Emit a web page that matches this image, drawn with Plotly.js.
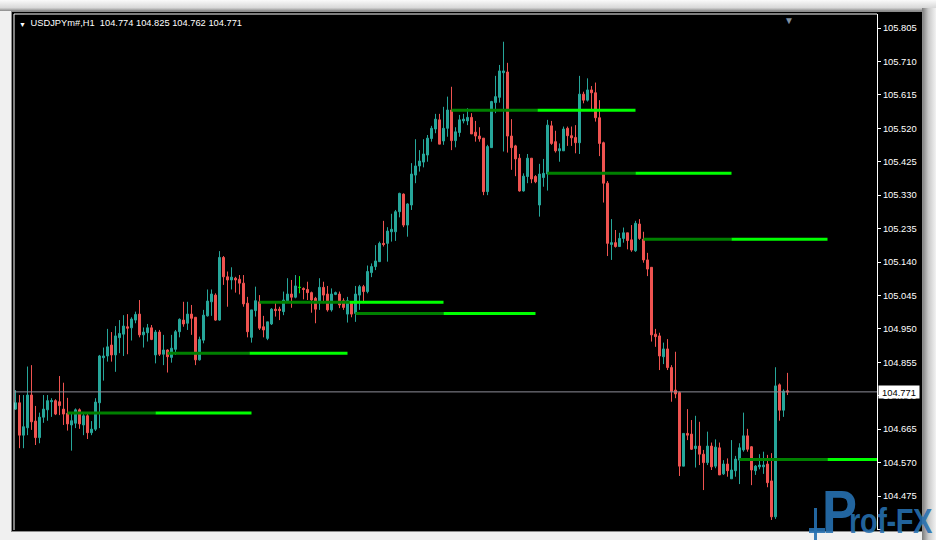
<!DOCTYPE html>
<html>
<head>
<meta charset="utf-8">
<script src="https://cdn.plot.ly/plotly-3.0.1.min.js"></script>
<style>
  html, body { margin: 0; padding: 0; width: 936px; height: 540px; overflow: hidden; background: #f0f0f0; }
  #topbar { position: absolute; left: 0; top: 0; width: 936px; height: 11px;
            background: linear-gradient(#fafafa, #d8d8d8 70%, #8a8a8a); }
  #shadow { position: absolute; left: 922px; top: 8px; width: 14px; height: 532px;
            background: linear-gradient(90deg, #7a7a7a, #c8c8c8 45%, #f2f2f2); }
  #edge { position: absolute; left: 11px; top: 11px; width: 912px; height: 521px; background: #8c8c8c; }
  #panel { position: absolute; left: 12px; top: 12px; width: 910px; height: 519px; background: #000; overflow: hidden; }
  #chart { width: 910px; height: 519px; }
  #logo { position: absolute; left: 0; top: 0; width: 936px; height: 540px; pointer-events: none; overflow: hidden;
          font-family: "Liberation Sans", Arial, sans-serif; font-weight: bold; color: rgba(38,112,176,0.9);
          white-space: nowrap; }
  #logo .p { position: absolute; left: 822px; top: 482px; font-size: 61px; line-height: 61px; white-space: nowrap;
             transform: scaleX(0.86); transform-origin: left top; }
  #logo .rest { position: absolute; left: 849px; top: 503px; font-size: 35px; line-height: 35px; white-space: nowrap;
                letter-spacing: -0.5px; transform: scaleX(0.83); transform-origin: left top; }
  #logo .stick { position: absolute; left: 814px; top: 508px; width: 3px; height: 32px; background: rgba(38,112,176,0.9); }
  #logo .foot { position: absolute; left: 809px; top: 528px; width: 16px; height: 5px; background: rgba(38,112,176,0.9); }
</style>
</head>
<body>
<div id="topbar"></div>
<div id="shadow"></div>
<div id="edge"></div>
<div id="panel"><div id="chart"></div></div>
<div id="logo"><div class="stick"></div><div class="foot"></div><span class="p">P</span><span class="rest">rof-FX</span></div>
<script>
// USDJPYm# hourly candles, oldest first
const symbol = "USDJPYm#,H1";

const open = [
  104.722,104.740,104.648,104.669,104.762,104.688,104.641,104.699,104.720,104.743,
  104.746,104.743,104.722,104.710,104.677,104.682,104.720,104.677,104.703,104.655,
  104.665,104.740,104.868,104.873,104.904,104.876,104.925,104.935,104.956,104.953,
  104.975,104.992,104.933,104.939,104.953,104.876,104.941,104.878,104.890,104.869,
  104.892,104.942,104.975,104.966,104.992,104.983,104.862,104.918,104.987,105.027,
  105.046,104.975,105.153,105.098,105.089,105.094,105.091,105.080,105.023,104.926,
  105.002,105.027,104.956,104.923,104.964,105.006,105.006,104.999,105.030,105.049,
  105.040,105.068,105.065,105.062,105.053,105.037,105.024,105.068,105.049,105.004,
  105.048,105.049,105.030,104.992,105.023,104.994,105.046,105.070,105.056,105.110,
  105.127,105.141,105.193,105.193,105.226,105.226,105.283,105.333,105.245,105.302,
  105.387,105.413,105.424,105.444,105.491,105.518,105.544,105.484,105.520,105.572,
  105.485,105.508,105.541,105.541,105.551,105.509,105.498,105.492,105.340,105.465,
  105.593,105.608,105.678,105.680,105.498,105.470,105.435,105.342,105.383,105.435,
  105.383,105.302,105.380,105.390,105.527,105.482,105.456,105.456,105.520,105.499,
  105.494,105.479,105.617,105.600,105.629,105.621,105.550,105.479,105.364,105.190,
  105.195,105.184,105.207,105.223,105.203,105.172,105.248,105.205,105.146,105.125,
  104.935,104.930,104.871,104.893,104.840,104.776,104.769,104.560,104.653,104.651,
  104.610,104.617,104.594,104.570,104.617,104.560,104.612,104.538,104.566,104.524,
  104.547,104.577,104.606,104.646,104.615,104.547,104.558,104.558,104.566,104.518,
  104.416,104.791,104.719,104.774
];
const high = [
  104.776,104.762,104.762,104.843,104.847,104.731,104.712,104.762,104.762,104.753,
  104.750,104.816,104.797,104.754,104.710,104.724,104.724,104.710,104.710,104.688,
  104.753,104.876,104.897,104.950,104.941,104.958,104.975,104.989,104.992,104.983,
  104.999,105.032,104.954,104.964,104.961,104.947,104.947,104.933,104.892,104.933,
  104.947,104.980,105.027,105.027,105.018,104.983,104.928,105.004,105.062,105.062,
  105.051,105.171,105.157,105.113,105.125,105.098,105.103,105.103,105.041,105.004,
  105.070,105.046,104.987,104.970,105.009,105.029,105.013,105.056,105.094,105.089,
  105.103,105.100,105.068,105.084,105.056,105.041,105.094,105.084,105.072,105.065,
  105.056,105.056,105.037,105.041,105.027,105.072,105.075,105.075,105.130,105.136,
  105.188,105.198,105.257,105.239,105.277,105.288,105.337,105.335,105.307,105.421,
  105.489,105.458,105.489,105.501,105.527,105.561,105.561,105.581,105.610,105.638,
  105.523,105.558,105.561,105.577,105.563,105.541,105.523,105.492,105.473,105.598,
  105.669,105.700,105.766,105.706,105.546,105.473,105.447,105.392,105.447,105.435,
  105.387,105.419,105.433,105.544,105.541,105.513,105.477,105.525,105.525,105.525,
  105.529,105.669,105.624,105.662,105.640,105.650,105.600,105.482,105.370,105.262,
  105.231,105.223,105.238,105.223,105.245,105.257,105.262,105.226,105.166,105.125,
  104.950,104.939,104.911,104.921,104.847,104.885,104.772,104.653,104.722,104.691,
  104.703,104.686,104.606,104.658,104.627,104.636,104.627,104.577,104.582,104.634,
  104.589,104.625,104.712,104.666,104.617,104.563,104.594,104.601,104.592,104.597,
  104.841,104.795,104.778,104.825
];
const low = [
  104.720,104.611,104.611,104.648,104.663,104.620,104.625,104.683,104.689,104.700,
  104.705,104.705,104.677,104.661,104.604,104.668,104.666,104.648,104.637,104.648,
  104.660,104.668,104.803,104.857,104.857,104.828,104.881,104.873,104.878,104.917,
  104.966,104.926,104.897,104.914,104.918,104.852,104.873,104.847,104.826,104.854,
  104.876,104.926,104.956,104.947,104.933,104.847,104.860,104.909,104.985,104.987,
  104.973,104.973,105.075,105.013,105.062,105.053,105.048,105.013,104.926,104.911,
  104.985,104.947,104.926,104.918,104.961,104.985,104.975,104.989,105.027,105.010,
  105.037,105.051,105.034,105.032,104.996,104.966,105.004,105.023,104.999,104.999,
  105.046,105.009,105.004,104.968,104.983,104.970,105.004,105.023,105.051,105.097,
  105.117,105.141,105.184,105.141,105.198,105.200,105.267,105.239,105.212,105.288,
  105.364,105.397,105.409,105.425,105.482,105.506,105.475,105.473,105.496,105.458,
  105.466,105.496,105.534,105.529,105.504,105.482,105.482,105.330,105.330,105.465,
  105.563,105.593,105.454,105.451,105.402,105.384,105.340,105.340,105.364,105.364,
  105.364,105.269,105.354,105.343,105.473,105.451,105.425,105.456,105.470,105.470,
  105.449,105.447,105.591,105.596,105.574,105.539,105.441,105.309,105.157,105.146,
  105.181,105.184,105.195,105.176,105.169,105.169,105.203,105.138,105.100,104.914,
  104.899,104.833,104.850,104.833,104.743,104.753,104.532,104.560,104.634,104.606,
  104.556,104.563,104.492,104.563,104.549,104.554,104.535,104.535,104.530,104.524,
  104.530,104.509,104.601,104.601,104.506,104.535,104.551,104.538,104.500,104.407,
  104.410,104.689,104.700,104.762
];
const close = [
  104.740,104.648,104.672,104.762,104.686,104.641,104.699,104.722,104.746,104.746,
  104.708,104.732,104.708,104.680,104.689,104.720,104.680,104.703,104.655,104.665,
  104.742,104.873,104.873,104.899,104.876,104.930,104.937,104.958,104.952,104.978,
  104.991,104.933,104.941,104.953,104.920,104.941,104.878,104.890,104.871,104.895,
  104.942,104.977,104.964,104.992,104.980,104.862,104.920,104.989,105.029,105.049,
  104.975,105.153,105.098,105.089,105.097,105.089,105.080,105.021,104.942,105.004,
  105.030,104.952,104.947,104.970,105.006,105.002,105.002,105.032,105.049,105.040,
  105.072,105.068,105.062,105.053,105.032,105.006,105.068,105.046,105.004,105.049,
  105.053,105.018,105.011,105.030,104.992,105.049,105.070,105.056,105.113,105.127,
  105.143,105.193,105.190,105.228,105.233,105.283,105.335,105.245,105.305,105.390,
  105.413,105.427,105.447,105.492,105.520,105.546,105.475,105.520,105.572,105.485,
  105.510,105.544,105.546,105.551,105.504,105.498,105.490,105.340,105.468,105.596,
  105.610,105.683,105.683,105.498,105.465,105.433,105.342,105.384,105.435,105.376,
  105.368,105.390,105.392,105.529,105.477,105.456,105.462,105.518,105.499,105.493,
  105.479,105.617,105.600,105.629,105.621,105.550,105.477,105.364,105.193,105.195,
  105.184,105.207,105.223,105.201,105.174,105.250,105.207,105.146,105.120,104.933,
  104.928,104.873,104.893,104.840,104.772,104.765,104.560,104.653,104.648,104.608,
  104.617,104.594,104.570,104.617,104.558,104.614,104.535,104.566,104.547,104.549,
  104.580,104.612,104.646,104.608,104.549,104.560,104.563,104.563,104.513,104.416,
  104.788,104.719,104.773,104.771
];

// Horizontal levels: price, first bar, bar where the line turns bright, last bar
const levelPrice = [104.711, 104.881, 105.026, 104.994, 105.571, 105.392, 105.205, 104.579];
const levelStart = [13, 38, 61, 85, 109, 133, 157, 181];
const levelMid   = [35, 58.5, 83.5, 107, 130.5, 155, 179, 203];
const levelEnd   = [59, 83, 107, 130, 155, 179, 203, 226];

// Price scale labels
const tickVals = [105.805, 105.710, 105.615, 105.520, 105.425, 105.330, 105.235, 105.140,
                  105.045, 104.950, 104.855, 104.760, 104.665, 104.570, 104.475, 104.380];

const BULL = "#26a69a", BEAR = "#ef5350", DOJI = "#00ff00";
const FONT = "Liberation Sans, Arial, sans-serif";

const idx = open.map((_, i) => i);
const bodyIdx = idx.filter(i => open[i] !== close[i]);
const dojiIdx = idx.filter(i => open[i] === close[i]);
const pick = (arr, ids) => ids.map(i => arr[i]);

function candleTrace(ids, up, down) {
  return {
    type: "candlestick",
    x: ids, open: pick(open, ids), high: pick(high, ids), low: pick(low, ids), close: pick(close, ids),
    increasing: { line: { color: up, width: 1 }, fillcolor: up },
    decreasing: { line: { color: down, width: 1 }, fillcolor: down },
    whiskerwidth: 0, hoverinfo: "skip", showlegend: false
  };
}

const traces = [candleTrace(bodyIdx, BULL, BEAR)];
if (dojiIdx.length) traces.push(candleTrace(dojiIdx, DOJI, DOJI));

levelPrice.forEach((p, k) => {
  traces.push({ type: "scatter", mode: "lines", x: [levelStart[k], levelMid[k]], y: [p, p],
                line: { color: "#008000", width: 3 }, hoverinfo: "skip", showlegend: false });
  traces.push({ type: "scatter", mode: "lines", x: [levelMid[k], levelEnd[k]], y: [p, p],
                line: { color: "#00ff00", width: 3 }, hoverinfo: "skip", showlegend: false });
});

const last = open.length - 1;
const fmt = v => v.toFixed(3);
const header = "\u00a0" + symbol + "\u00a0\u00a0" +
  [open[last], high[last], low[last], close[last]].map(fmt).join(" ");

const layout = {
  width: 910, height: 519,
  margin: { l: 2, r: 45, t: 2, b: 1, pad: 0 },
  paper_bgcolor: "#000", plot_bgcolor: "#000",
  showlegend: false,
  boxgap: 0.5, boxgroupgap: 0,
  xaxis: {
    range: [-0.375, 215.375], showgrid: false, zeroline: false, showline: false,
    showticklabels: false, ticks: "", rangeslider: { visible: false }, fixedrange: true
  },
  yaxis: {
    side: "right", range: [104.3785, 105.8448],
    tickmode: "array", tickvals: tickVals, ticktext: tickVals.map(fmt),
    ticks: "outside", ticklen: 3, tickwidth: 1, tickcolor: "#ffffff",
    showline: true, linecolor: "#ffffff", linewidth: 1,
    showgrid: false, zeroline: false, fixedrange: true,
    tickfont: { family: FONT, size: 9.4, color: "#ffffff" }
  },
  shapes: [
    { type: "line", xref: "paper", yref: "paper", x0: 0, x1: 1, y0: 1, y1: 1, line: { color: "#ffffff", width: 1 } },
    { type: "line", xref: "paper", yref: "paper", x0: 0, x1: 0, y0: 0, y1: 1, line: { color: "#ffffff", width: 1 } },
    { type: "line", xref: "paper", yref: "y", x0: 0, x1: 1, y0: close[last], y1: close[last],
      line: { color: "#8e8e98", width: 1 } }
  ],
  annotations: [
    { xref: "paper", yref: "paper", x: 0, y: 1, xanchor: "left", yanchor: "top", xshift: 3, yshift: -5,
      text: "\u25bc", showarrow: false, font: { family: FONT, size: 7, color: "#ffffff" } },
    { xref: "paper", yref: "paper", x: 0, y: 1, xanchor: "left", yanchor: "top", xshift: 12, yshift: -2,
      text: header, showarrow: false, font: { family: FONT, size: 9.3, color: "#ffffff" } },
    { xref: "paper", yref: "paper", x: 0.8985, y: 1, xanchor: "center", yanchor: "top", yshift: 1,
      text: "\u25bc", showarrow: false, font: { family: FONT, size: 10, color: "#7f90a0" } },
    { xref: "paper", yref: "y", x: 1, y: close[last], xanchor: "left", yanchor: "middle", xshift: 1,
      text: fmt(close[last]), showarrow: false, bgcolor: "#ffffff", borderpad: 0, width: 40, height: 12,
      font: { family: FONT, size: 9.4, color: "#000000" } }
  ]
};

Plotly.newPlot("chart", traces, layout, { staticPlot: true, displayModeBar: false });
</script>
</body>
</html>
